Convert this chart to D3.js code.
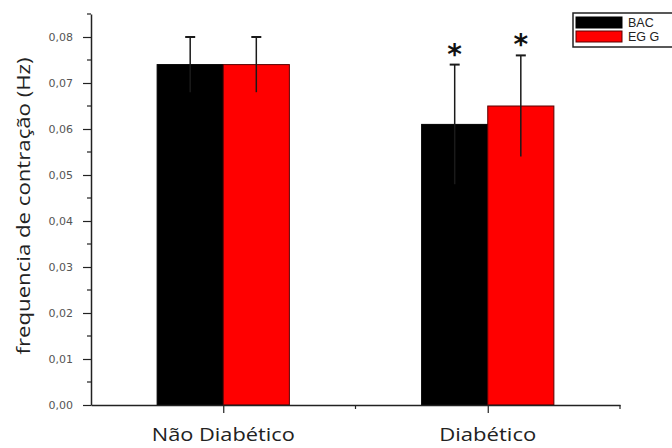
<!DOCTYPE html>
<html>
<head>
<meta charset="utf-8">
<script src="https://cdn.jsdelivr.net/npm/d3@7"></script>
<style>
  html, body { margin: 0; padding: 0; background: #fff; }
  svg { display: block; }
</style>
</head>
<body>
<svg id="chart" width="672" height="448"></svg>
<script>
// ---- data ----
const categories = ["Não Diabético", "Diabético"];
const seriesNames = ["BAC", "EGG"];
const legendLabels = ["BAC", "EG G"];
const bacMeans = [0.074, 0.061];
const bacErrors = [0.006, 0.013];
const eggMeans = [0.074, 0.065];
const eggErrors = [0.006, 0.011];
const significant = [[false, false], [true, true]]; // [category][series]
const yTicks = [0, 0.01, 0.02, 0.03, 0.04, 0.05, 0.06, 0.07, 0.08];
const yTickLabels = ["0,00", "0,01", "0,02", "0,03", "0,04", "0,05", "0,06", "0,07", "0,08"];
const yMinorTicks = [0.005, 0.015, 0.025, 0.035, 0.045, 0.055, 0.065, 0.075, 0.085];
const yTitle = "frequencia de contração (Hz)";

// ---- layout ----
const svg = d3.select("#chart");
const colors = ["#000000", "#ff0000"];
const strokes = ["#000000", "#5a0000"];
const x = d3.scaleLinear().domain([0.5, 2.5]).range([91, 620]);
const y = d3.scaleLinear().domain([0, 0.085]).range([405, 14]);
const barW = 0.25;

const rows = [];
categories.forEach((c, i) => {
  rows.push({cat: i + 1, s: 0, mean: bacMeans[i], err: bacErrors[i], sig: significant[i][0]});
  rows.push({cat: i + 1, s: 1, mean: eggMeans[i], err: eggErrors[i], sig: significant[i][1]});
});

// bars
svg.append("g").selectAll("rect").data(rows).join("rect")
  .attr("x", d => x(d.cat - barW + d.s * barW))
  .attr("y", d => y(d.mean))
  .attr("width", d => x(d.cat + barW) - x(d.cat))
  .attr("height", d => y(0) - y(d.mean))
  .attr("fill", d => colors[d.s])
  .attr("stroke", d => strokes[d.s])
  .attr("stroke-width", 1);

// error bars
const eb = svg.append("g").selectAll("g").data(rows).join("g");
const cx = d => x(d.cat - barW / 2 + d.s * barW);
eb.append("line")
  .attr("x1", cx).attr("x2", cx)
  .attr("y1", d => y(d.mean - d.err)).attr("y2", d => y(d.mean + d.err))
  .attr("stroke", "#1a1a1a").attr("stroke-width", 1.5);
eb.append("line")
  .attr("x1", d => cx(d) - 5).attr("x2", d => cx(d) + 5)
  .attr("y1", d => y(d.mean + d.err)).attr("y2", d => y(d.mean + d.err))
  .attr("stroke", "#1a1a1a").attr("stroke-width", 2);

// significance stars
svg.append("g").selectAll("text").data(rows.filter(d => d.sig)).join("text")
  .attr("x", cx)
  .attr("y", d => y(d.mean + d.err) - 1)
  .attr("text-anchor", "middle")
  .attr("font-family", "DejaVu Sans, sans-serif")
  .attr("font-size", 28)
  .attr("font-weight", "bold")
  .attr("fill", "#111")
  .text("*");

// y axis
const yAxis = d3.axisLeft(y).tickValues(yTicks)
  .tickFormat((d, i) => yTickLabels[i]).tickSize(8).tickPadding(10).tickSizeOuter(0);
const gy = svg.append("g").attr("transform", `translate(${x(0.5)},0)`).call(yAxis);
gy.select(".domain").attr("stroke", "#222").attr("stroke-width", 1.5);
gy.selectAll(".tick line").attr("stroke", "#222").attr("stroke-width", 1.2);
gy.selectAll(".tick text").attr("font-family", "DejaVu Sans, sans-serif")
  .attr("font-size", 11).attr("fill", "#555");
svg.append("g").selectAll("line").data(yMinorTicks).join("line")
  .attr("x1", x(0.5) - 4).attr("x2", x(0.5))
  .attr("y1", d => y(d)).attr("y2", d => y(d))
  .attr("stroke", "#222").attr("stroke-width", 1.2);

// x axis
const xAxis = d3.axisBottom(x).tickValues([1, 2]).tickFormat(() => "").tickSize(8).tickSizeOuter(0);
const gx = svg.append("g").attr("transform", `translate(0,${y(0)})`).call(xAxis);
gx.select(".domain").attr("stroke", "#222").attr("stroke-width", 1.5);
gx.selectAll(".tick line").attr("stroke", "#222").attr("stroke-width", 1.2);
svg.append("g").selectAll("line").data([1.5, 2.5]).join("line")
  .attr("x1", d => x(d)).attr("x2", d => x(d))
  .attr("y1", y(0)).attr("y2", y(0) + 4)
  .attr("stroke", "#222").attr("stroke-width", 1.2);

// category labels
const labelLen = [143, 97];
svg.append("g").selectAll("text").data(categories).join("text")
  .attr("x", (d, i) => x(i + 1))
  .attr("y", 441)
  .attr("text-anchor", "middle")
  .attr("font-family", "Open Sans, sans-serif")
  .attr("font-size", 18)
  .attr("textLength", (d, i) => labelLen[i])
  .attr("lengthAdjust", "spacingAndGlyphs")
  .attr("fill", "#222")
  .text(d => d);

// y title
svg.append("text")
  .attr("transform", `translate(30,206) rotate(-90)`)
  .attr("text-anchor", "middle")
  .attr("font-family", "Open Sans, sans-serif")
  .attr("font-size", 18)
  .attr("textLength", 297)
  .attr("lengthAdjust", "spacingAndGlyphs")
  .attr("fill", "#222")
  .text(yTitle);

// legend
const lg = svg.append("g").attr("transform", "translate(573,13)");
lg.append("rect").attr("x", 0).attr("y", 0).attr("width", 110).attr("height", 34)
  .attr("fill", "#fff").attr("stroke", "#222").attr("stroke-width", 1.5);
seriesNames.forEach((s, i) => {
  lg.append("rect").attr("x", 3).attr("y", 4 + i * 14).attr("width", 46).attr("height", 11)
    .attr("fill", colors[i]).attr("stroke", strokes[i]).attr("stroke-width", 1);
  lg.append("text").attr("x", 55).attr("y", 14 + i * 14)
    .attr("font-family", "Liberation Sans, Arial, sans-serif")
    .attr("font-size", 12.5).attr("fill", "#222")
    .text(legendLabels[i]);
});
</script>
</body>
</html>
